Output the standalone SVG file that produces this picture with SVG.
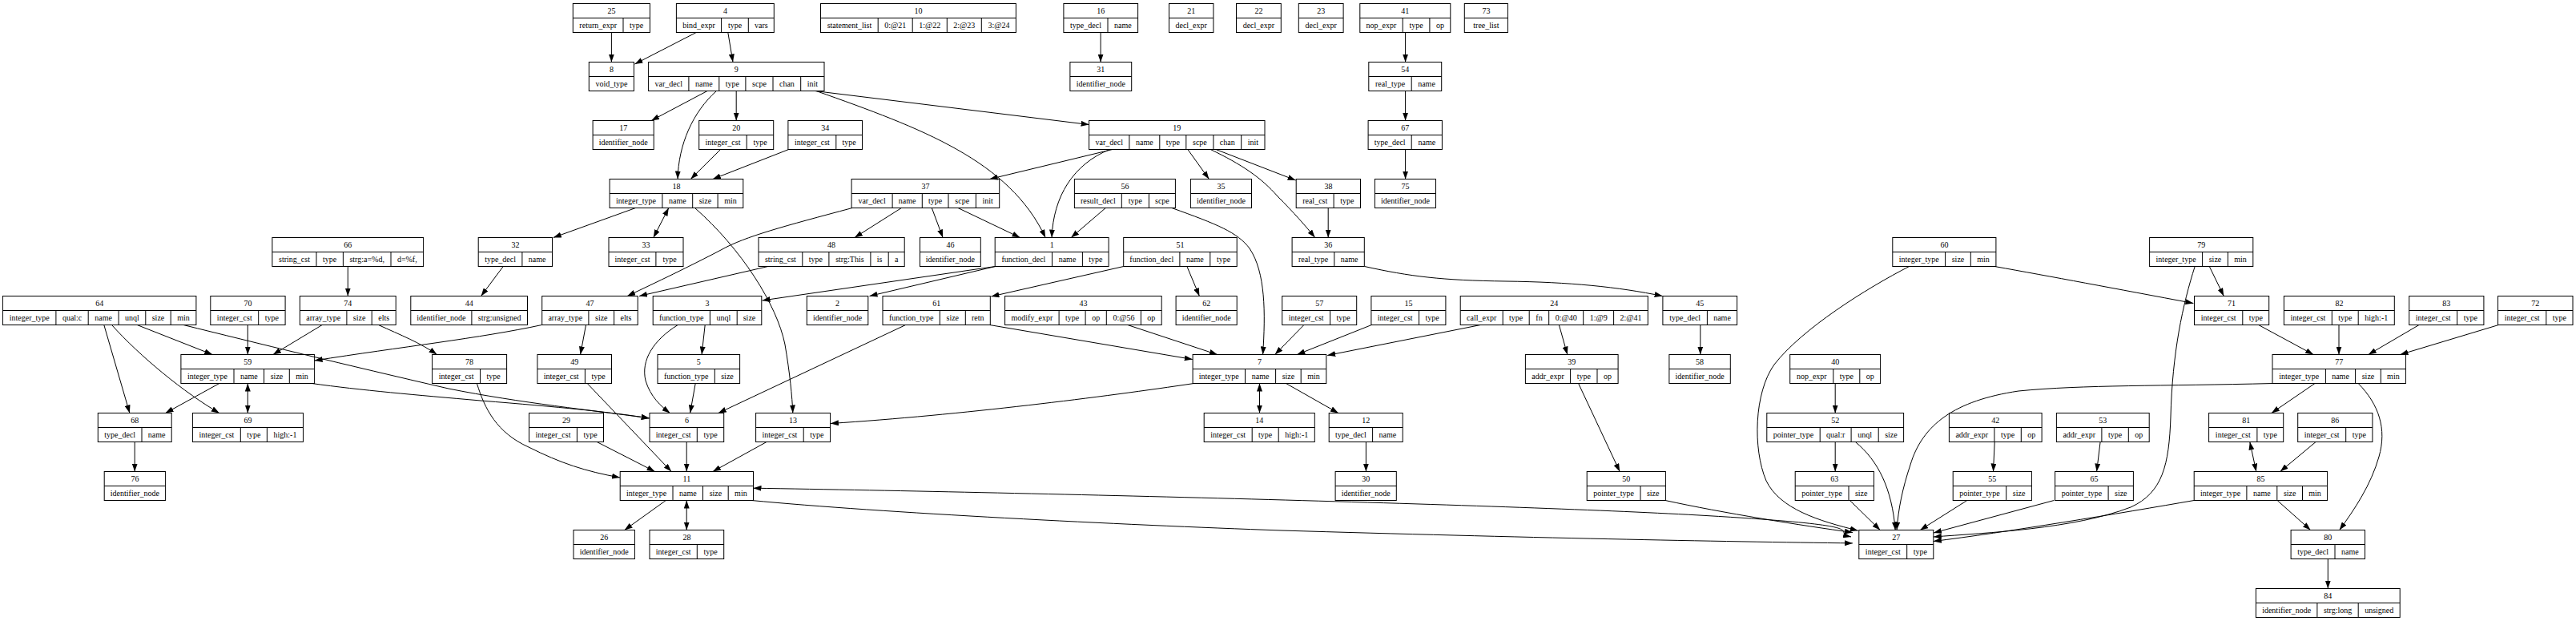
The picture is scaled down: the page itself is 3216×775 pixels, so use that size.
<svg xmlns="http://www.w3.org/2000/svg" width="3216" height="775" viewBox="0 0 3216 775">
<defs>
<marker id="ah" viewBox="0 0 10 7" refX="10" refY="3.5" markerWidth="10" markerHeight="7" markerUnits="userSpaceOnUse" orient="auto-start-reverse"><path d="M0,0L10,3.5L0,7Z" fill="#000"/></marker>
<style>
.n rect{fill:#fff;stroke:#000;stroke-width:1}
.n path{fill:none;stroke:#000;stroke-width:1}
text{font-family:"Liberation Serif","Times New Roman",serif;font-size:10px;text-anchor:middle;fill:#000}
#edges path{fill:none;stroke:#000;stroke-width:1;marker-end:url(#ah)}
#edges path.b{marker-start:url(#ah)}
</style>
</defs>
<rect width="3216" height="775" fill="#fff"/>
<g id="nodes">
<g id="n25" class="n"><rect x="715.3" y="4.5" width="96.1" height="36"/><path d="M715.3 22.5H811.4M778 22.5V40.5"/><text x="763.4" y="17">25</text><text x="746.7" y="35">return_expr</text><text x="794.7" y="35">type</text></g>
<g id="n4" class="n"><rect x="844.4" y="4.5" width="121.9" height="36"/><path d="M844.4 22.5H966.3M900.6 22.5V40.5M934.3 22.5V40.5"/><text x="905.4" y="17">4</text><text x="872.5" y="35">bind_expr</text><text x="917.5" y="35">type</text><text x="950.3" y="35">vars</text></g>
<g id="n10" class="n"><rect x="1024.5" y="4.5" width="243.9" height="36"/><path d="M1024.5 22.5H1268.4M1096.2 22.5V40.5M1139.2 22.5V40.5M1182.3 22.5V40.5M1225.3 22.5V40.5"/><text x="1146.5" y="17">10</text><text x="1060.4" y="35">statement_list</text><text x="1117.7" y="35">0:@21</text><text x="1160.8" y="35">1:@22</text><text x="1203.8" y="35">2:@23</text><text x="1246.9" y="35">3:@24</text></g>
<g id="n16" class="n"><rect x="1327.9" y="4.5" width="92.7" height="36"/><path d="M1327.9 22.5H1420.6M1383 22.5V40.5"/><text x="1374.3" y="17">16</text><text x="1355.5" y="35">type_decl</text><text x="1401.8" y="35">name</text></g>
<g id="n21" class="n"><rect x="1459.5" y="4.5" width="55.4" height="36"/><path d="M1459.5 22.5H1514.9"/><text x="1487.2" y="17">21</text><text x="1487.2" y="35">decl_expr</text></g>
<g id="n22" class="n"><rect x="1543.5" y="4.5" width="55.8" height="36"/><path d="M1543.5 22.5H1599.3"/><text x="1571.4" y="17">22</text><text x="1571.4" y="35">decl_expr</text></g>
<g id="n23" class="n"><rect x="1621.3" y="4.5" width="55.8" height="36"/><path d="M1621.3 22.5H1677.1"/><text x="1649.2" y="17">23</text><text x="1649.2" y="35">decl_expr</text></g>
<g id="n41" class="n"><rect x="1697.8" y="4.5" width="113" height="36"/><path d="M1697.8 22.5H1810.8M1751.2 22.5V40.5M1784.9 22.5V40.5"/><text x="1754.3" y="17">41</text><text x="1724.5" y="35">nop_expr</text><text x="1768.1" y="35">type</text><text x="1797.9" y="35">op</text></g>
<g id="n73" class="n"><rect x="1828.3" y="4.5" width="54.1" height="36"/><path d="M1828.3 22.5H1882.4"/><text x="1855.4" y="17">73</text><text x="1855.4" y="35">tree_list</text></g>

<g id="n8" class="n"><rect x="735.3" y="77.5" width="56.1" height="36"/><path d="M735.3 95.5H791.4"/><text x="763.4" y="90">8</text><text x="763.4" y="108">void_type</text></g>
<g id="n9" class="n"><rect x="809.6" y="77.5" width="219.4" height="36"/><path d="M809.6 95.5H1029M859.9 95.5V113.5M897.8 95.5V113.5M930.9 95.5V113.5M965 95.5V113.5M999.7 95.5V113.5"/><text x="919.3" y="90">9</text><text x="834.8" y="108">var_decl</text><text x="878.9" y="108">name</text><text x="914.4" y="108">type</text><text x="948" y="108">scpe</text><text x="982.4" y="108">chan</text><text x="1014.4" y="108">init</text></g>
<g id="n31" class="n"><rect x="1335.9" y="77.5" width="76.8" height="36"/><path d="M1335.9 95.5H1412.7"/><text x="1374.3" y="90">31</text><text x="1374.3" y="108">identifier_node</text></g>
<g id="n54" class="n"><rect x="1708.8" y="77.5" width="90.9" height="36"/><path d="M1708.8 95.5H1799.7M1762.2 95.5V113.5"/><text x="1754.3" y="90">54</text><text x="1735.5" y="108">real_type</text><text x="1781" y="108">name</text></g>

<g id="n17" class="n"><rect x="740.1" y="150.5" width="76.1" height="36"/><path d="M740.1 168.5H816.2"/><text x="778.2" y="163">17</text><text x="778.2" y="181">identifier_node</text></g>
<g id="n20" class="n"><rect x="872.7" y="150.5" width="93" height="36"/><path d="M872.7 168.5H965.7M932.2 168.5V186.5"/><text x="919.2" y="163">20</text><text x="902.5" y="181">integer_cst</text><text x="949" y="181">type</text></g>
<g id="n34" class="n"><rect x="983.9" y="150.5" width="92.6" height="36"/><path d="M983.9 168.5H1076.5M1043.8 168.5V186.5"/><text x="1030.2" y="163">34</text><text x="1013.9" y="181">integer_cst</text><text x="1060.2" y="181">type</text></g>
<g id="n19" class="n"><rect x="1359.6" y="150.5" width="219.4" height="36"/><path d="M1359.6 168.5H1579M1409.9 168.5V186.5M1447.8 168.5V186.5M1480.8 168.5V186.5M1514.9 168.5V186.5M1549.7 168.5V186.5"/><text x="1469.3" y="163">19</text><text x="1384.8" y="181">var_decl</text><text x="1428.9" y="181">name</text><text x="1464.3" y="181">type</text><text x="1497.9" y="181">scpe</text><text x="1532.3" y="181">chan</text><text x="1564.4" y="181">init</text></g>
<g id="n67" class="n"><rect x="1708.1" y="150.5" width="92.3" height="36"/><path d="M1708.1 168.5H1800.4M1762.2 168.5V186.5"/><text x="1754.3" y="163">67</text><text x="1735.2" y="181">type_decl</text><text x="1781.3" y="181">name</text></g>

<g id="n18" class="n"><rect x="761.1" y="223.5" width="166.7" height="36"/><path d="M761.1 241.5H927.8M826.9 241.5V259.5M864.7 241.5V259.5M896.1 241.5V259.5"/><text x="844.5" y="236">18</text><text x="794" y="254">integer_type</text><text x="845.8" y="254">name</text><text x="880.4" y="254">size</text><text x="912" y="254">min</text></g>
<g id="n37" class="n"><rect x="1063.1" y="223.5" width="184.6" height="36"/><path d="M1063.1 241.5H1247.7M1114.1 241.5V259.5M1151.3 241.5V259.5M1184 241.5V259.5M1218.4 241.5V259.5"/><text x="1155.4" y="236">37</text><text x="1088.6" y="254">var_decl</text><text x="1132.7" y="254">name</text><text x="1167.7" y="254">type</text><text x="1201.2" y="254">scpe</text><text x="1233.1" y="254">init</text></g>
<g id="n56" class="n"><rect x="1341.4" y="223.5" width="126" height="36"/><path d="M1341.4 241.5H1467.4M1400.3 241.5V259.5M1434.4 241.5V259.5"/><text x="1404.4" y="236">56</text><text x="1370.9" y="254">result_decl</text><text x="1417.4" y="254">type</text><text x="1450.9" y="254">scpe</text></g>
<g id="n35" class="n"><rect x="1486.4" y="223.5" width="76.1" height="36"/><path d="M1486.4 241.5H1562.5"/><text x="1524.5" y="236">35</text><text x="1524.5" y="254">identifier_node</text></g>
<g id="n38" class="n"><rect x="1618.2" y="223.5" width="80.3" height="36"/><path d="M1618.2 241.5H1698.5M1665.1 241.5V259.5"/><text x="1658.4" y="236">38</text><text x="1641.7" y="254">real_cst</text><text x="1681.8" y="254">type</text></g>
<g id="n75" class="n"><rect x="1716.4" y="223.5" width="76.1" height="36"/><path d="M1716.4 241.5H1792.5"/><text x="1754.5" y="236">75</text><text x="1754.5" y="254">identifier_node</text></g>

<g id="n66" class="n"><rect x="339.9" y="296.5" width="188.7" height="36"/><path d="M339.9 314.5H528.6M395 314.5V332.5M428.4 314.5V332.5M488 314.5V332.5"/><text x="434.3" y="309">66</text><text x="367.5" y="327">string_cst</text><text x="411.7" y="327">type</text><text x="458.2" y="327">strg:a=%d,</text><text x="508.3" y="327">d=%f,</text></g>
<g id="n32" class="n"><rect x="597.2" y="296.5" width="92.3" height="36"/><path d="M597.2 314.5H689.5M651.9 314.5V332.5"/><text x="643.4" y="309">32</text><text x="624.6" y="327">type_decl</text><text x="670.7" y="327">name</text></g>
<g id="n33" class="n"><rect x="760" y="296.5" width="93" height="36"/><path d="M760 314.5H853M818.9 314.5V332.5"/><text x="806.5" y="309">33</text><text x="789.5" y="327">integer_cst</text><text x="836" y="327">type</text></g>
<g id="n48" class="n"><rect x="947" y="296.5" width="182.2" height="36"/><path d="M947 314.5H1129.2M1001.8 314.5V332.5M1034.9 314.5V332.5M1086.9 314.5V332.5M1109.2 314.5V332.5"/><text x="1038.1" y="309">48</text><text x="974.4" y="327">string_cst</text><text x="1018.4" y="327">type</text><text x="1060.9" y="327">strg:This</text><text x="1098.1" y="327">is</text><text x="1119.2" y="327">a</text></g>
<g id="n46" class="n"><rect x="1148.5" y="296.5" width="75.8" height="36"/><path d="M1148.5 314.5H1224.3"/><text x="1186.4" y="309">46</text><text x="1186.4" y="327">identifier_node</text></g>
<g id="n1" class="n"><rect x="1242.2" y="296.5" width="141.9" height="36"/><path d="M1242.2 314.5H1384.1M1313.5 314.5V332.5M1351.4 314.5V332.5"/><text x="1313.2" y="309">1</text><text x="1277.9" y="327">function_decl</text><text x="1332.5" y="327">name</text><text x="1367.8" y="327">type</text></g>
<g id="n51" class="n"><rect x="1402.7" y="296.5" width="141.5" height="36"/><path d="M1402.7 314.5H1544.2M1472.9 314.5V332.5M1510.8 314.5V332.5"/><text x="1473.5" y="309">51</text><text x="1437.8" y="327">function_decl</text><text x="1491.9" y="327">name</text><text x="1527.5" y="327">type</text></g>
<g id="n36" class="n"><rect x="1613.1" y="296.5" width="90.2" height="36"/><path d="M1613.1 314.5H1703.3M1665.8 314.5V332.5"/><text x="1658.2" y="309">36</text><text x="1639.5" y="327">real_type</text><text x="1684.6" y="327">name</text></g>
<g id="n60" class="n"><rect x="2362.8" y="296.5" width="129.1" height="36"/><path d="M2362.8 314.5H2491.9M2428.6 314.5V332.5M2460.3 314.5V332.5"/><text x="2427.4" y="309">60</text><text x="2395.7" y="327">integer_type</text><text x="2444.5" y="327">size</text><text x="2476.1" y="327">min</text></g>
<g id="n79" class="n"><rect x="2683.6" y="296.5" width="129.2" height="36"/><path d="M2683.6 314.5H2812.8M2749.6 314.5V332.5M2781.4 314.5V332.5"/><text x="2748.2" y="309">79</text><text x="2716.6" y="327">integer_type</text><text x="2765.5" y="327">size</text><text x="2797.1" y="327">min</text></g>

<g id="n64" class="n"><rect x="3.4" y="369.5" width="241.5" height="36"/><path d="M3.4 387.5H244.9M69.9 387.5V405.5M110.2 387.5V405.5M148.1 387.5V405.5M181.8 387.5V405.5M213.2 387.5V405.5"/><text x="124.2" y="382">64</text><text x="36.7" y="400">integer_type</text><text x="90.1" y="400">qual:c</text><text x="129.2" y="400">name</text><text x="165" y="400">unql</text><text x="197.5" y="400">size</text><text x="229.1" y="400">min</text></g>
<g id="n70" class="n"><rect x="262.8" y="369.5" width="93.3" height="36"/><path d="M262.8 387.5H356.1M322.7 387.5V405.5"/><text x="309.5" y="382">70</text><text x="292.8" y="400">integer_cst</text><text x="339.4" y="400">type</text></g>
<g id="n74" class="n"><rect x="374.4" y="369.5" width="119.8" height="36"/><path d="M374.4 387.5H494.2M432.9 387.5V405.5M464.2 387.5V405.5"/><text x="434.3" y="382">74</text><text x="403.7" y="400">array_type</text><text x="448.6" y="400">size</text><text x="479.2" y="400">elts</text></g>
<g id="n44" class="n"><rect x="512.8" y="369.5" width="145.7" height="36"/><path d="M512.8 387.5H658.5M588.9 387.5V405.5"/><text x="585.7" y="382">44</text><text x="550.9" y="400">identifier_node</text><text x="623.7" y="400">strg:unsigned</text></g>
<g id="n47" class="n"><rect x="676.7" y="369.5" width="119.5" height="36"/><path d="M676.7 387.5H796.2M734.9 387.5V405.5M766.6 387.5V405.5"/><text x="736.5" y="382">47</text><text x="705.8" y="400">array_type</text><text x="750.8" y="400">size</text><text x="781.4" y="400">elts</text></g>
<g id="n3" class="n"><rect x="815.2" y="369.5" width="135.6" height="36"/><path d="M815.2 387.5H950.8M886.4 387.5V405.5M920.2 387.5V405.5"/><text x="883" y="382">3</text><text x="850.8" y="400">function_type</text><text x="903.3" y="400">unql</text><text x="935.5" y="400">size</text></g>
<g id="n2" class="n"><rect x="1007.3" y="369.5" width="76.5" height="36"/><path d="M1007.3 387.5H1083.8"/><text x="1045.6" y="382">2</text><text x="1045.6" y="400">identifier_node</text></g>
<g id="n61" class="n"><rect x="1102" y="369.5" width="134.3" height="36"/><path d="M1102 387.5H1236.3M1173.3 387.5V405.5M1205.3 387.5V405.5"/><text x="1169.2" y="382">61</text><text x="1137.7" y="400">function_type</text><text x="1189.3" y="400">size</text><text x="1220.8" y="400">retn</text></g>
<g id="n43" class="n"><rect x="1254.6" y="369.5" width="195.6" height="36"/><path d="M1254.6 387.5H1450.2M1322.1 387.5V405.5M1355.1 387.5V405.5M1381.3 387.5V405.5M1424.4 387.5V405.5"/><text x="1352.4" y="382">43</text><text x="1288.4" y="400">modify_expr</text><text x="1338.6" y="400">type</text><text x="1368.2" y="400">op</text><text x="1402.9" y="400">0:@56</text><text x="1437.3" y="400">op</text></g>
<g id="n62" class="n"><rect x="1468.1" y="369.5" width="76.1" height="36"/><path d="M1468.1 387.5H1544.2"/><text x="1506.2" y="382">62</text><text x="1506.2" y="400">identifier_node</text></g>
<g id="n57" class="n"><rect x="1600.7" y="369.5" width="93" height="36"/><path d="M1600.7 387.5H1693.7M1660.6 387.5V405.5"/><text x="1647.2" y="382">57</text><text x="1630.7" y="400">integer_cst</text><text x="1677.2" y="400">type</text></g>
<g id="n15" class="n"><rect x="1711.9" y="369.5" width="93" height="36"/><path d="M1711.9 387.5H1804.9M1771.5 387.5V405.5"/><text x="1758.4" y="382">15</text><text x="1741.7" y="400">integer_cst</text><text x="1788.2" y="400">type</text></g>
<g id="n24" class="n"><rect x="1823.2" y="369.5" width="234.1" height="36"/><path d="M1823.2 387.5H2057.3M1876.2 387.5V405.5M1909.2 387.5V405.5M1933.7 387.5V405.5M1976.7 387.5V405.5M2014.6 387.5V405.5"/><text x="1940.3" y="382">24</text><text x="1849.7" y="400">call_expr</text><text x="1892.7" y="400">type</text><text x="1921.5" y="400">fn</text><text x="1955.2" y="400">0:@40</text><text x="1995.7" y="400">1:@9</text><text x="2036" y="400">2:@41</text></g>
<g id="n45" class="n"><rect x="2075.9" y="369.5" width="92.7" height="36"/><path d="M2075.9 387.5H2168.6M2131.4 387.5V405.5"/><text x="2122.3" y="382">45</text><text x="2103.7" y="400">type_decl</text><text x="2150" y="400">name</text></g>
<g id="n71" class="n"><rect x="2739.5" y="369.5" width="93.2" height="36"/><path d="M2739.5 387.5H2832.7M2799.8 387.5V405.5"/><text x="2786.1" y="382">71</text><text x="2769.7" y="400">integer_cst</text><text x="2816.3" y="400">type</text></g>
<g id="n82" class="n"><rect x="2851.4" y="369.5" width="137.9" height="36"/><path d="M2851.4 387.5H2989.3M2911.3 387.5V405.5M2944.2 387.5V405.5"/><text x="2920.4" y="382">82</text><text x="2881.4" y="400">integer_cst</text><text x="2927.8" y="400">type</text><text x="2966.8" y="400">high:-1</text></g>
<g id="n83" class="n"><rect x="3007.7" y="369.5" width="93.2" height="36"/><path d="M3007.7 387.5H3100.9M3067.6 387.5V405.5"/><text x="3054.3" y="382">83</text><text x="3037.7" y="400">integer_cst</text><text x="3084.3" y="400">type</text></g>
<g id="n72" class="n"><rect x="3118.5" y="369.5" width="93.5" height="36"/><path d="M3118.5 387.5H3212M3178.8 387.5V405.5"/><text x="3165.3" y="382">72</text><text x="3148.7" y="400">integer_cst</text><text x="3195.4" y="400">type</text></g>

<g id="n59" class="n"><rect x="225.9" y="442.5" width="166.7" height="36"/><path d="M225.9 460.5H392.6M292 460.5V478.5M329.6 460.5V478.5M361.3 460.5V478.5"/><text x="309.3" y="455">59</text><text x="259" y="473">integer_type</text><text x="310.8" y="473">name</text><text x="345.5" y="473">size</text><text x="377" y="473">min</text></g>
<g id="n78" class="n"><rect x="539.6" y="442.5" width="93" height="36"/><path d="M539.6 460.5H632.6M599.6 460.5V478.5"/><text x="586.1" y="455">78</text><text x="569.6" y="473">integer_cst</text><text x="616.1" y="473">type</text></g>
<g id="n49" class="n"><rect x="670.9" y="442.5" width="92.6" height="36"/><path d="M670.9 460.5H763.5M730.4 460.5V478.5"/><text x="717.2" y="455">49</text><text x="700.7" y="473">integer_cst</text><text x="747" y="473">type</text></g>
<g id="n5" class="n"><rect x="821" y="442.5" width="102.6" height="36"/><path d="M821 460.5H923.6M892.3 460.5V478.5"/><text x="872.3" y="455">5</text><text x="856.7" y="473">function_type</text><text x="908" y="473">size</text></g>
<g id="n7" class="n"><rect x="1489.1" y="442.5" width="166.7" height="36"/><path d="M1489.1 460.5H1655.8M1554.5 460.5V478.5M1592.6 460.5V478.5M1624.2 460.5V478.5"/><text x="1572.5" y="455">7</text><text x="1521.8" y="473">integer_type</text><text x="1573.6" y="473">name</text><text x="1608.4" y="473">size</text><text x="1640" y="473">min</text></g>
<g id="n39" class="n"><rect x="1904.4" y="442.5" width="115.7" height="36"/><path d="M1904.4 460.5H2020.1M1960.6 460.5V478.5M1994 460.5V478.5"/><text x="1962.3" y="455">39</text><text x="1932.5" y="473">addr_expr</text><text x="1977.3" y="473">type</text><text x="2007.1" y="473">op</text></g>
<g id="n58" class="n"><rect x="2083.9" y="442.5" width="76.4" height="36"/><path d="M2083.9 460.5H2160.3"/><text x="2122.1" y="455">58</text><text x="2122.1" y="473">identifier_node</text></g>
<g id="n40" class="n"><rect x="2234.7" y="442.5" width="112.9" height="36"/><path d="M2234.7 460.5H2347.6M2288.8 460.5V478.5M2321.8 460.5V478.5"/><text x="2291.2" y="455">40</text><text x="2261.8" y="473">nop_expr</text><text x="2305.3" y="473">type</text><text x="2334.7" y="473">op</text></g>
<g id="n77" class="n"><rect x="2837" y="442.5" width="166.4" height="36"/><path d="M2837 460.5H3003.4M2903.4 460.5V478.5M2940.6 460.5V478.5M2972.3 460.5V478.5"/><text x="2920.2" y="455">77</text><text x="2870.2" y="473">integer_type</text><text x="2922" y="473">name</text><text x="2956.5" y="473">size</text><text x="2987.9" y="473">min</text></g>

<g id="n68" class="n"><rect x="122.3" y="515.5" width="91.9" height="36"/><path d="M122.3 533.5H214.2M177 533.5V551.5"/><text x="168.3" y="528">68</text><text x="149.7" y="546">type_decl</text><text x="195.6" y="546">name</text></g>
<g id="n69" class="n"><rect x="240.4" y="515.5" width="138.1" height="36"/><path d="M240.4 533.5H378.5M300.3 533.5V551.5M333.4 533.5V551.5"/><text x="309.5" y="528">69</text><text x="270.4" y="546">integer_cst</text><text x="316.9" y="546">type</text><text x="356" y="546">high:-1</text></g>
<g id="n29" class="n"><rect x="660.5" y="515.5" width="93" height="36"/><path d="M660.5 533.5H753.5M720.4 533.5V551.5"/><text x="707" y="528">29</text><text x="690.5" y="546">integer_cst</text><text x="737" y="546">type</text></g>
<g id="n6" class="n"><rect x="811" y="515.5" width="92.7" height="36"/><path d="M811 533.5H903.7M870.3 533.5V551.5"/><text x="857.4" y="528">6</text><text x="840.7" y="546">integer_cst</text><text x="887" y="546">type</text></g>
<g id="n13" class="n"><rect x="943.6" y="515.5" width="93" height="36"/><path d="M943.6 533.5H1036.6M1003.2 533.5V551.5"/><text x="990.1" y="528">13</text><text x="973.4" y="546">integer_cst</text><text x="1019.9" y="546">type</text></g>
<g id="n14" class="n"><rect x="1503.2" y="515.5" width="138.1" height="36"/><path d="M1503.2 533.5H1641.3M1563.2 533.5V551.5M1596.2 533.5V551.5"/><text x="1572.3" y="528">14</text><text x="1533.2" y="546">integer_cst</text><text x="1579.7" y="546">type</text><text x="1618.8" y="546">high:-1</text></g>
<g id="n12" class="n"><rect x="1659.2" y="515.5" width="92" height="36"/><path d="M1659.2 533.5H1751.2M1713.6 533.5V551.5"/><text x="1705.2" y="528">12</text><text x="1686.4" y="546">type_decl</text><text x="1732.4" y="546">name</text></g>
<g id="n52" class="n"><rect x="2205.8" y="515.5" width="170.8" height="36"/><path d="M2205.8 533.5H2376.6M2272.2 533.5V551.5M2311.1 533.5V551.5M2345.2 533.5V551.5"/><text x="2291.2" y="528">52</text><text x="2239" y="546">pointer_type</text><text x="2291.7" y="546">qual:r</text><text x="2328.2" y="546">unql</text><text x="2360.9" y="546">size</text></g>
<g id="n42" class="n"><rect x="2433.4" y="515.5" width="115.7" height="36"/><path d="M2433.4 533.5H2549.1M2489.9 533.5V551.5M2523.3 533.5V551.5"/><text x="2491.3" y="528">42</text><text x="2461.7" y="546">addr_expr</text><text x="2506.6" y="546">type</text><text x="2536.2" y="546">op</text></g>
<g id="n53" class="n"><rect x="2567.4" y="515.5" width="115.8" height="36"/><path d="M2567.4 533.5H2683.2M2623.9 533.5V551.5M2657.3 533.5V551.5"/><text x="2625.3" y="528">53</text><text x="2595.7" y="546">addr_expr</text><text x="2640.6" y="546">type</text><text x="2670.3" y="546">op</text></g>
<g id="n81" class="n"><rect x="2757.6" y="515.5" width="93.1" height="36"/><path d="M2757.6 533.5H2850.7M2817.9 533.5V551.5"/><text x="2804.2" y="528">81</text><text x="2787.8" y="546">integer_cst</text><text x="2834.3" y="546">type</text></g>
<g id="n86" class="n"><rect x="2868.7" y="515.5" width="93.2" height="36"/><path d="M2868.7 533.5H2961.9M2928.7 533.5V551.5"/><text x="2915.3" y="528">86</text><text x="2898.7" y="546">integer_cst</text><text x="2945.3" y="546">type</text></g>

<g id="n76" class="n"><rect x="130.2" y="588.5" width="76.4" height="36"/><path d="M130.2 606.5H206.6"/><text x="168.4" y="601">76</text><text x="168.4" y="619">identifier_node</text></g>
<g id="n11" class="n"><rect x="774.2" y="588.5" width="166.3" height="36"/><path d="M774.2 606.5H940.5M840 606.5V624.5M877.5 606.5V624.5M909.2 606.5V624.5"/><text x="857.4" y="601">11</text><text x="807.1" y="619">integer_type</text><text x="858.8" y="619">name</text><text x="893.4" y="619">size</text><text x="924.9" y="619">min</text></g>
<g id="n30" class="n"><rect x="1667.1" y="588.5" width="76.2" height="36"/><path d="M1667.1 606.5H1743.3"/><text x="1705.2" y="601">30</text><text x="1705.2" y="619">identifier_node</text></g>
<g id="n50" class="n"><rect x="1981.2" y="588.5" width="98.2" height="36"/><path d="M1981.2 606.5H2079.4M2048 606.5V624.5"/><text x="2030.3" y="601">50</text><text x="2014.6" y="619">pointer_type</text><text x="2063.7" y="619">size</text></g>
<g id="n63" class="n"><rect x="2241.2" y="588.5" width="98.2" height="36"/><path d="M2241.2 606.5H2339.4M2308 606.5V624.5"/><text x="2290.3" y="601">63</text><text x="2274.6" y="619">pointer_type</text><text x="2323.7" y="619">size</text></g>
<g id="n55" class="n"><rect x="2438.2" y="588.5" width="98.2" height="36"/><path d="M2438.2 606.5H2536.4M2504.7 606.5V624.5"/><text x="2487.3" y="601">55</text><text x="2471.5" y="619">pointer_type</text><text x="2520.6" y="619">size</text></g>
<g id="n65" class="n"><rect x="2565.6" y="588.5" width="97.8" height="36"/><path d="M2565.6 606.5H2663.4M2632.1 606.5V624.5"/><text x="2614.5" y="601">65</text><text x="2598.9" y="619">pointer_type</text><text x="2647.8" y="619">size</text></g>
<g id="n85" class="n"><rect x="2739.2" y="588.5" width="166.4" height="36"/><path d="M2739.2 606.5H2905.6M2804.9 606.5V624.5M2842.8 606.5V624.5M2874.5 606.5V624.5"/><text x="2822.4" y="601">85</text><text x="2772.1" y="619">integer_type</text><text x="2823.9" y="619">name</text><text x="2858.7" y="619">size</text><text x="2890.1" y="619">min</text></g>

<g id="n26" class="n"><rect x="716" y="661.5" width="76.4" height="36"/><path d="M716 679.5H792.4"/><text x="754.2" y="674">26</text><text x="754.2" y="692">identifier_node</text></g>
<g id="n28" class="n"><rect x="811" y="661.5" width="92.7" height="36"/><path d="M811 679.5H903.7M870.3 679.5V697.5"/><text x="857.4" y="674">28</text><text x="840.7" y="692">integer_cst</text><text x="887" y="692">type</text></g>
<g id="n27" class="n"><rect x="2320.8" y="661.5" width="93" height="36"/><path d="M2320.8 679.5H2413.8M2380.7 679.5V697.5"/><text x="2367.3" y="674">27</text><text x="2350.8" y="692">integer_cst</text><text x="2397.3" y="692">type</text></g>
<g id="n80" class="n"><rect x="2860.1" y="661.5" width="92.4" height="36"/><path d="M2860.1 679.5H2952.5M2915 679.5V697.5"/><text x="2906.3" y="674">80</text><text x="2887.6" y="692">type_decl</text><text x="2933.8" y="692">name</text></g>

<g id="n84" class="n"><rect x="2816.4" y="734.5" width="179.8" height="36"/><path d="M2816.4 752.5H2996.2M2892.9 752.5V770.5M2944.2 752.5V770.5"/><text x="2906.3" y="747">84</text><text x="2854.7" y="765">identifier_node</text><text x="2918.6" y="765">strg:long</text><text x="2970.2" y="765">unsigned</text></g>
</g>
<g id="edges">
<path d="M763.4,40.5V77.5"/>
<path d="M869.2,40.5L792.4,80"/>
<path d="M908.8,40.5L915,77.5"/>
<path d="M883,113.5L813.1,150.5"/>
<path d="M894.4,113.5C865,140 847,180 846.1,223.5"/>
<path d="M919.2,113.5V150.5"/>
<path d="M1017.3,113.5L1359.6,155.5"/>
<path d="M1019,113.5C1150,160 1260,200 1305.2,296.5"/>
<path d="M899.5,186.5L862.3,223.5"/>
<path d="M984.6,186.5L889.9,223.5"/>
<path d="M793.5,259.5L690.8,296.5"/>
<path class="b" d="M834.8,259.5L815.8,296.5"/>
<path d="M867.5,259.5C925,310 970,380 980,430C986,465 989,495 989.8,515.5"/>
<path d="M628.2,332.5L600.6,369.5"/>
<path d="M1064,259.5C980,282 930,295 900,312C860,333 820,352 783.1,369.5"/>
<path d="M958.8,332.5L798,369.5"/>
<path d="M1242.5,332.5L951.5,375"/>
<path d="M1242.5,332.5L1085.5,369.5"/>
<path d="M1125.4,259.5L1066.9,296.5"/>
<path d="M1163.3,259.5L1177.1,296.5"/>
<path d="M1196,259.5L1273.5,296.5"/>
<path d="M1388.9,186.5L1235.6,223.5"/>
<path d="M1385.4,186.5C1340,205 1315,245 1313.1,296.5"/>
<path d="M1380.3,259.5L1337.2,296.5"/>
<path d="M1462.9,259.5C1520,280 1545,290 1560,310C1580,340 1580,390 1576.6,442.5"/>
<path d="M1482.9,186.5L1509.4,223.5"/>
<path d="M1511.2,186.5C1550,205 1575,222 1595,245C1615,265 1630,282 1641.7,296.5"/>
<path d="M1518,186.5L1617.6,225"/>
<path d="M1374.1,40.5V77.5"/>
<path d="M1754.6,40.5V77.5"/>
<path d="M1754.6,113.5V150.5"/>
<path d="M1754.6,186.5V223.5"/>
<path d="M1658.2,259.5V296.5"/>
<path d="M1703.6,332.5C1760,345 1800,350 1880,351C1960,352 2020,358 2075.6,369.5"/>
<path d="M1402.7,332.5L1237.4,370"/>
<path d="M1481.9,332.5L1497.4,369.5"/>
<path d="M434.3,332.5V369.5"/>
<path d="M129.8,405.5L161.9,515.5"/>
<path d="M139.5,405.5C175,445 230,490 273.8,515.5"/>
<path d="M171.2,405.5L265.2,442.5"/>
<path d="M229,405.5C320,428 430,455 560,485C650,503 740,512 810.7,521.9"/>
<path d="M389.2,478.5C450,487 520,493 600,500C700,508 760,514 810.7,521.9"/>
<path d="M309.3,405.5V442.5"/>
<path d="M402.2,405.5L340.9,442.5"/>
<path d="M472.5,405.5C500,418 525,428 545.5,442.5"/>
<path d="M676.4,405.5C600,422 500,433 392.6,450"/>
<path d="M273.8,478.5L206.6,515.5"/>
<path class="b" d="M309.3,478.5V515.5"/>
<path d="M168.2,551.5V588.5"/>
<path d="M731.5,405.5L724.6,442.5"/>
<path d="M846.2,405.5C815,425 800,450 806,475C812,495 825,507 836.5,515.5"/>
<path d="M880.2,405.5L876.1,442.5"/>
<path d="M868.2,478.5L861.6,515.5"/>
<path d="M1130.6,405.5L896.8,515.5"/>
<path d="M1235.6,405.5L1488.8,448.5"/>
<path d="M1407.8,405.5L1519.8,442.5"/>
<path d="M1627.9,405.5L1591.7,442.5"/>
<path d="M1712.3,405.5L1619.3,442.5"/>
<path d="M1848.3,405.5L1657.2,443.5"/>
<path d="M1946.4,405.5L1956.8,442.5"/>
<path d="M2122.8,405.5V442.5"/>
<path d="M1490.5,478.5C1380,495 1200,518 1036.9,528.5"/>
<path class="b" d="M1572.5,478.5V515.5"/>
<path d="M1605.5,478.5L1670.9,515.5"/>
<path d="M1705.4,551.5V588.5"/>
<path d="M1970.6,478.5L2022.2,588.5"/>
<path d="M733.2,478.5L838.2,588.5"/>
<path d="M595.4,478.5C605,510 620,540 660,558C700,578 730,588 774,596"/>
<path d="M745.2,551.5L817.6,588.5"/>
<path d="M857.2,551.5V588.5"/>
<path d="M957,551.5L889.9,588.5"/>
<path d="M831.3,624.5L779.7,661.5"/>
<path class="b" d="M857.2,624.5V661.5"/>
<path class="b" d="M940.5,609.2C1300,615 1900,630 2130,643.5S2280,663 2311,670"/>
<path d="M938.1,624.5C1100,640 1400,655 1600,662C1900,671 2150,676 2312.9,677.9"/>
<path d="M2079,624.5C2150,640 2250,656 2313,664.5"/>
<path d="M2383.5,332.5C2330,360 2250,410 2215,455C2190,490 2188,560 2205,600C2222,635 2270,650 2319.7,662.2"/>
<path d="M2490.2,332.5C2560,345 2640,360 2738.4,378.5"/>
<path d="M2758.3,332.5L2776.3,369.5"/>
<path d="M2740.2,332.5C2725,380 2712,440 2710,520C2708,580 2700,615 2660,633C2590,660 2480,665 2413.8,670"/>
<path d="M2739.2,624.5C2650,640 2500,665 2413.8,675.5"/>
<path d="M2564.3,624.5L2414,665"/>
<path d="M2455.8,624.5L2397.2,661.5"/>
<path d="M2309.4,624.5L2347.3,661.5"/>
<path d="M2316.3,551.5C2345,575 2362,610 2366.2,661.5"/>
<path d="M2291.2,551.5V588.5"/>
<path d="M2291.2,478.5V515.5"/>
<path d="M2490.2,551.5L2488.5,588.5"/>
<path d="M2622.1,551.5L2617.6,588.5"/>
<path d="M2837.7,478.5C2700,482 2600,480 2520,488C2440,500 2400,530 2385,580C2375,610 2370,635 2368,661.5"/>
<path d="M2819.7,405.5L2888.2,442.5"/>
<path d="M2920,405.5V442.5"/>
<path d="M3020,405.5L2956.8,442.5"/>
<path d="M3119.3,405.5L2996.5,442.5"/>
<path d="M2890,478.5L2835.9,515.5"/>
<path d="M2944.2,478.5C2970,505 2980,535 2970,570C2960,605 2940,635 2920.7,661.5"/>
<path class="b" d="M2808.8,551.5L2816.8,588.5"/>
<path d="M2891.1,551.5L2846.7,588.5"/>
<path d="M2843.1,624.5L2884.6,661.5"/>
<path d="M2906.3,697.5V734.5"/>
</g>
</svg>
